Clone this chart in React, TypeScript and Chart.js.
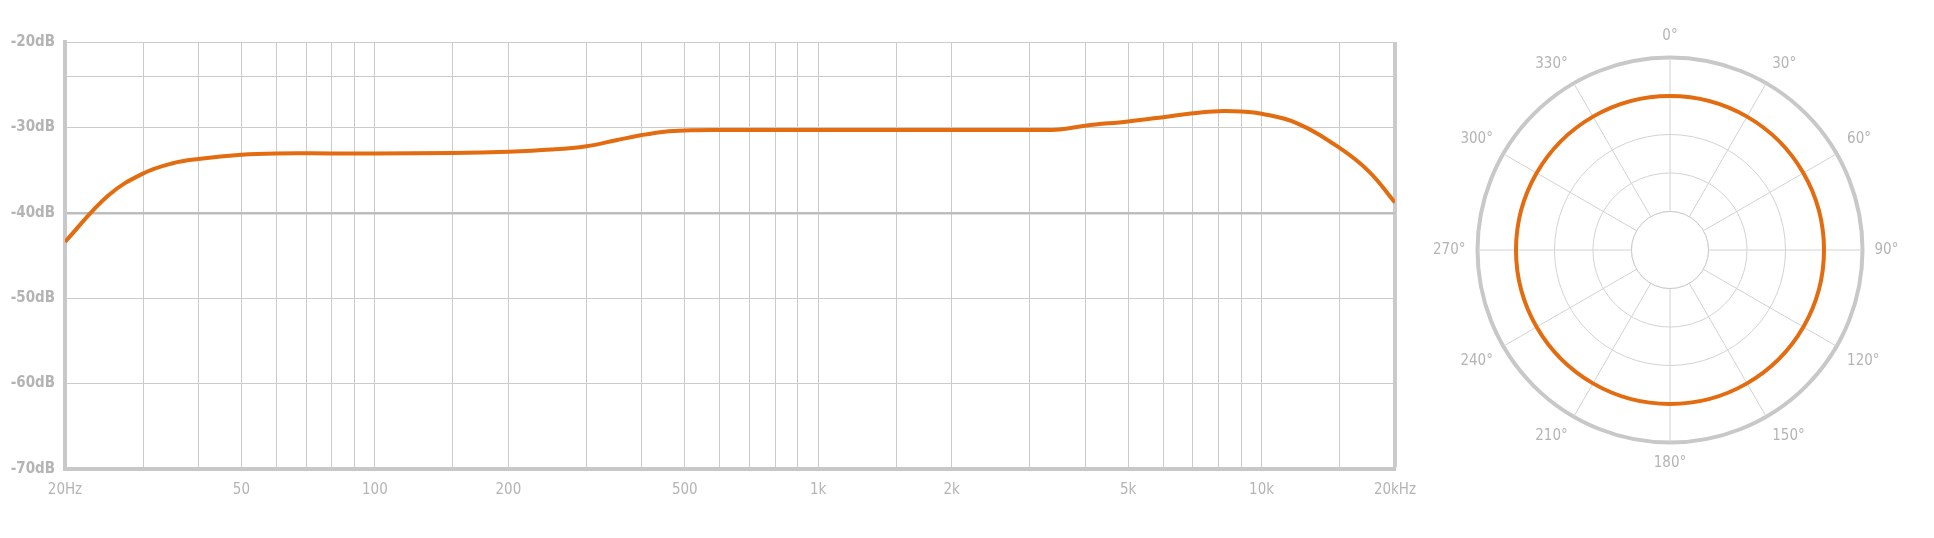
import { useEffect, useRef } from 'react';
import { Chart, registerables } from 'chart.js';

Chart.register(...registerables);

// Frequency response (Hz -> dB)
const freqs = [20, 25, 30, 35, 40, 50, 60, 80, 100, 150, 200, 250, 300, 350, 400, 450, 500, 600, 1000, 2000, 3000, 3500, 4000, 5000, 6000, 7000, 8000, 9000, 10000, 12000, 15000, 17500, 20000];
const levels = [-43.4, -38.0, -35.4, -34.2, -33.7, -33.2, -33.05, -33.05, -33.05, -33.0, -32.85, -32.6, -32.2, -31.5, -30.9, -30.5, -30.35, -30.3, -30.3, -30.3, -30.3, -30.25, -29.8, -29.3, -28.8, -28.35, -28.1, -28.15, -28.4, -29.5, -32.4, -35.2, -38.8];

const freqGrid = [20, 30, 40, 50, 60, 70, 80, 90, 100, 150, 200, 300, 400, 500, 600, 700, 800, 900, 1000, 1500, 2000, 3000, 4000, 5000, 6000, 7000, 8000, 9000, 10000, 15000, 20000];
const freqLabelValues = [20, 50, 100, 200, 500, 1000, 2000, 5000, 10000, 20000];
const freqLabelTexts = ['20Hz', '50', '100', '200', '500', '1k', '2k', '5k', '10k', '20kHz'];

const dbTicks = [-70, -60, -50, -40, -30, -24, -20];
const dbLabelTexts = ['-70dB', '-60dB', '-50dB', '-40dB', '-30dB', '', '-20dB'];

// Polar pattern (omni)
const polarAngles = ['0°', '30°', '60°', '90°', '120°', '150°', '180°', '210°', '240°', '270°', '300°', '330°'];
const polarLevels = [4, 4, 4, 4, 4, 4, 4, 4, 4, 4, 4, 4];
const polarRings = [1, 2, 3, 4, 5];

const ORANGE = '#e36c10';
const GRID = '#cbcbcb';
const FRAME = '#c8c8c8';
const TEXT = '#b4b4b4';
const FONT = "'Liberation Sans Narrow', 'DejaVu Sans Condensed', 'Roboto Condensed', sans-serif";

// white hub in the middle of the polar plot, angle lines start at the first ring
const hubPlugin = {
  id: 'hub',
  beforeDatasetsDraw: (chart: any) => {
    const scale = chart.scales.r;
    if (!scale) return;
    const { ctx } = chart;
    const rad = scale.getDistanceFromCenterForValue(polarRings[0]);
    ctx.save();
    ctx.beginPath();
    ctx.arc(scale.xCenter, scale.yCenter, rad, 0, Math.PI * 2);
    ctx.fillStyle = '#ffffff';
    ctx.fill();
    ctx.strokeStyle = GRID;
    ctx.lineWidth = 1;
    ctx.stroke();
    ctx.restore();
  }
};

const FrequencyChart = () => {
  const canvasRef = useRef<HTMLCanvasElement>(null);

  useEffect(() => {
    if (!canvasRef.current) return;
    const chart = new Chart(canvasRef.current, {
      type: 'line',
      data: {
        datasets: [
          {
            data: freqs.map((f, i) => ({ x: f, y: levels[i] })),
            borderColor: ORANGE,
            borderWidth: 4,
            pointRadius: 0,
            fill: false,
            tension: 0.4,
          },
        ],
      },
      options: {
        animation: false,
        responsive: true,
        maintainAspectRatio: false,
        layout: { padding: { top: 42, right: 45, left: 0, bottom: 0 } },
        plugins: { legend: { display: false }, tooltip: { enabled: false } },
        scales: {
          x: {
            type: 'logarithmic',
            min: 20,
            max: 20000,
            afterBuildTicks: (scale: any) => {
              scale.ticks = freqGrid.map((v) => ({ value: v }));
            },
            afterFit: (scale: any) => {
              scale.height = 69;
            },
            grid: {
              color: GRID,
              drawTicks: false,
              lineWidth: (c: any) => (c.tick && c.tick.value === 20000 ? 4 : 1),
            },
            border: { display: true, width: 4, color: FRAME },
            ticks: {
              autoSkip: false,
              maxRotation: 0,
              minRotation: 0,
              padding: 12,
              color: TEXT,
              font: { family: FONT, size: 15 },
              callback: (value: any) => {
                const i = freqLabelValues.indexOf(Number(value));
                return i >= 0 ? freqLabelTexts[i] : '';
              },
            },
          },
          y: {
            type: 'linear',
            min: -70,
            max: -20,
            afterBuildTicks: (scale: any) => {
              scale.ticks = dbTicks.map((v) => ({ value: v }));
            },
            afterFit: (scale: any) => {
              scale.width = 65;
            },
            grid: {
              drawTicks: false,
              color: (c: any) => (c.tick && c.tick.value === -40 ? '#bdbdbd' : GRID),
              lineWidth: (c: any) => (c.tick && c.tick.value === -40 ? 2.5 : 1),
            },
            border: { display: true, width: 4, color: FRAME },
            ticks: {
              padding: 10,
              color: TEXT,
              font: { family: FONT, size: 15, weight: 'bold' },
              callback: (value: any) => {
                const i = dbTicks.indexOf(Number(value));
                return i >= 0 ? dbLabelTexts[i] : '';
              },
            },
          },
        },
      },
    });
    return () => chart.destroy();
  }, []);

  return (
    <div style={{ position: 'absolute', left: 0, top: 0, width: 1440, height: 538 }}>
      <canvas ref={canvasRef}></canvas>
    </div>
  );
};

const PolarChart = () => {
  const canvasRef = useRef<HTMLCanvasElement>(null);

  useEffect(() => {
    if (!canvasRef.current) return;
    const chart = new Chart(canvasRef.current, {
      type: 'radar',
      plugins: [hubPlugin],
      data: {
        labels: polarAngles,
        datasets: [
          {
            data: polarLevels,
            borderColor: ORANGE,
            borderWidth: 4,
            pointRadius: 0,
            fill: false,
            tension: 0.351,
          },
        ],
      },
      options: {
        animation: false,
        responsive: true,
        maintainAspectRatio: false,
        plugins: { legend: { display: false }, tooltip: { enabled: false } },
        scales: {
          r: {
            min: 0,
            max: 5,
            afterBuildTicks: (scale: any) => {
              scale.ticks = [0, ...polarRings].map((v) => ({ value: v }));
            },
            ticks: { display: false },
            grid: {
              circular: true,
              color: (c: any) => (c.tick && c.tick.value === 5 ? FRAME : '#d2d2d2'),
              lineWidth: (c: any) => (c.tick && c.tick.value === 5 ? 4 : 1),
            },
            angleLines: { color: '#d2d2d2', lineWidth: 1 },
            pointLabels: {
              padding: 12,
              color: TEXT,
              font: { family: FONT, size: 15 },
            },
          },
        },
      },
    });
    return () => chart.destroy();
  }, []);

  return (
    <div style={{ position: 'absolute', left: 1429, top: 23, width: 474, height: 454 }}>
      <canvas ref={canvasRef}></canvas>
    </div>
  );
};

export default function App() {
  return (
    <div style={{ position: 'absolute', left: 0, top: 0, width: 1934, height: 538, background: '#ffffff' }}>
      <FrequencyChart />
      <PolarChart />
    </div>
  );
}
